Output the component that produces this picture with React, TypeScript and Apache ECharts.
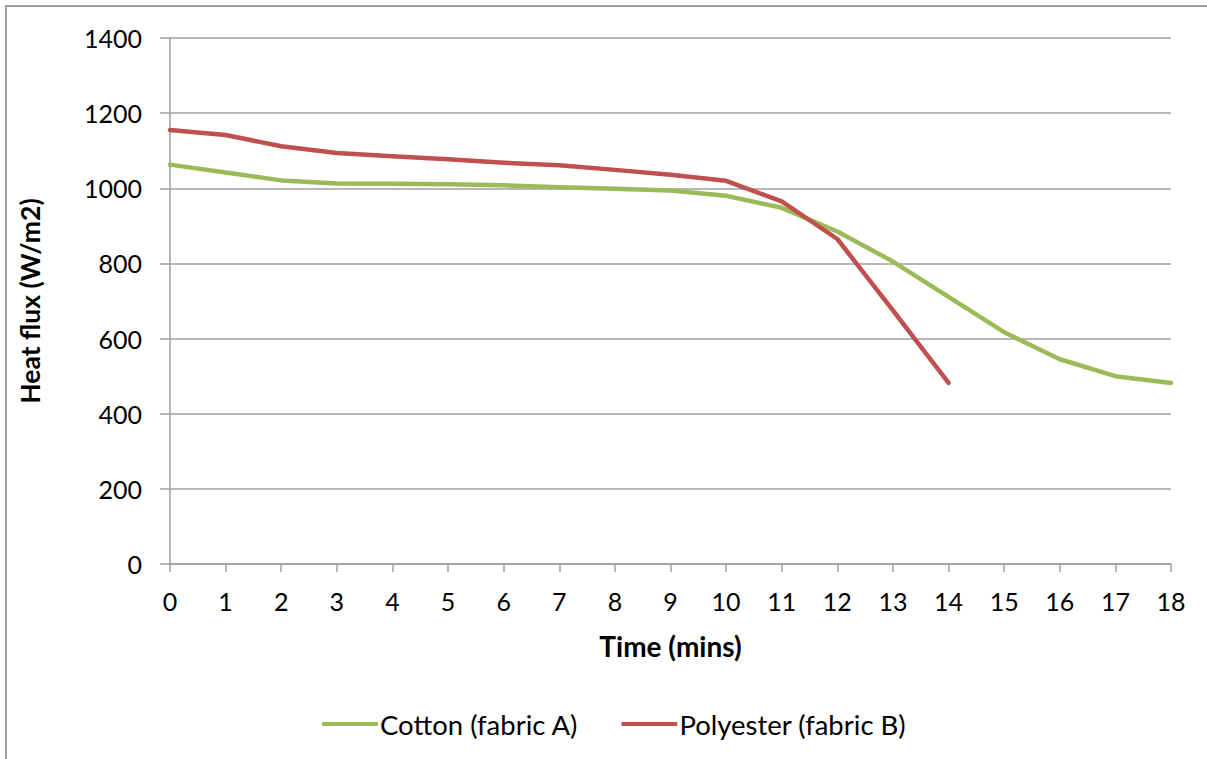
import React, { useEffect, useRef } from "react";
import * as echarts from "echarts";

const timeMins = [0, 1, 2, 3, 4, 5, 6, 7, 8, 9, 10, 11, 12, 13, 14, 15, 16, 17, 18];
const cotton = [1063, 1042, 1021, 1013, 1012, 1011, 1008, 1003, 999, 994, 980, 948, 885, 805, 711, 617, 545, 500, 482];
const polyester = [1155, 1142, 1112, 1094, 1085, 1077, 1068, 1061, 1049, 1036, 1020, 965, 865, 675, 482];
const yTicks = { min: 0, max: 1400, interval: 200 };
const seriesNames = ["Cotton (fabric A)", "Polyester (fabric B)"];
const colors = ["#9BBB59", "#C0504D"];

const FONT = "Lato, 'Open Sans', sans-serif";

export default function App() {
  const ref = useRef<HTMLDivElement>(null);
  useEffect(() => {
    if (!ref.current) return;
    const chart = echarts.init(ref.current, null, { renderer: "svg" });
    const toPairs = (vals: number[]) => vals.map((v, i) => [timeMins[i], v]);
    chart.setOption({
      animation: false,
      backgroundColor: "#ffffff",
      textStyle: { fontFamily: FONT },
      graphic: [
        {
          type: "rect",
          shape: { x: 6, y: 6, width: 1220, height: 780 },
          style: { fill: "none", stroke: "#9f9f9f", lineWidth: 2 },
          silent: true,
          z: -1,
        },
      ],
      grid: { left: 170, top: 38, width: 1001, height: 526, containLabel: false },
      legend: {
        top: 705,
        left: 317,
        itemWidth: 56,
        itemHeight: 4,
        itemGap: 43,
        icon: "roundRect",
        textStyle: { fontSize: 27.5, color: "#000", fontFamily: FONT, padding: [0, 0, 0, -3] },
        data: seriesNames,
      },
      xAxis: {
        type: "value",
        min: 0,
        max: 18,
        interval: 1,
        name: "Time (mins)",
        nameLocation: "middle",
        nameGap: 68,
        nameTextStyle: { fontSize: 28, fontWeight: "bold", color: "#000", fontFamily: FONT },
        axisLine: { show: true, onZero: false, lineStyle: { color: "#9f9f9f", width: 1.5 } },
        axisTick: { show: true, length: 8, inside: false, lineStyle: { color: "#9f9f9f", width: 1.5 } },
        axisLabel: { fontSize: 25, color: "#000", margin: 24, fontFamily: FONT },
        splitLine: { show: false },
      },
      yAxis: {
        type: "value",
        min: yTicks.min,
        max: yTicks.max,
        interval: yTicks.interval,
        name: "Heat flux (W/m2)",
        nameLocation: "middle",
        nameGap: 127,
        nameRotate: 90,
        nameTextStyle: { fontSize: 26.5, fontWeight: "bold", color: "#000", fontFamily: FONT },
        axisLine: { show: true, lineStyle: { color: "#9f9f9f", width: 1.5 } },
        axisTick: { show: true, length: 10, lineStyle: { color: "#9f9f9f", width: 1.5 } },
        axisLabel: {
          fontSize: 25,
          color: "#000",
          margin: 28,
          fontFamily: FONT,
          formatter: (v: number) => String(v),
        },
        splitLine: { show: true, lineStyle: { color: "#9f9f9f", width: 1.5 } },
      },
      series: [
        {
          name: seriesNames[0],
          type: "line",
          data: toPairs(cotton),
          symbol: "none",
          lineStyle: { color: colors[0], width: 4.5, cap: "round", join: "round" },
          itemStyle: { color: colors[0] },
        },
        {
          name: seriesNames[1],
          type: "line",
          data: toPairs(polyester),
          symbol: "none",
          lineStyle: { color: colors[1], width: 4.5, cap: "round", join: "round" },
          itemStyle: { color: colors[1] },
        },
      ],
    });
    return () => chart.dispose();
  }, []);
  return (
    <div
      ref={ref}
      style={{ position: "absolute", left: 0, top: 0, width: 1207, height: 759 }}
    />
  );
}
